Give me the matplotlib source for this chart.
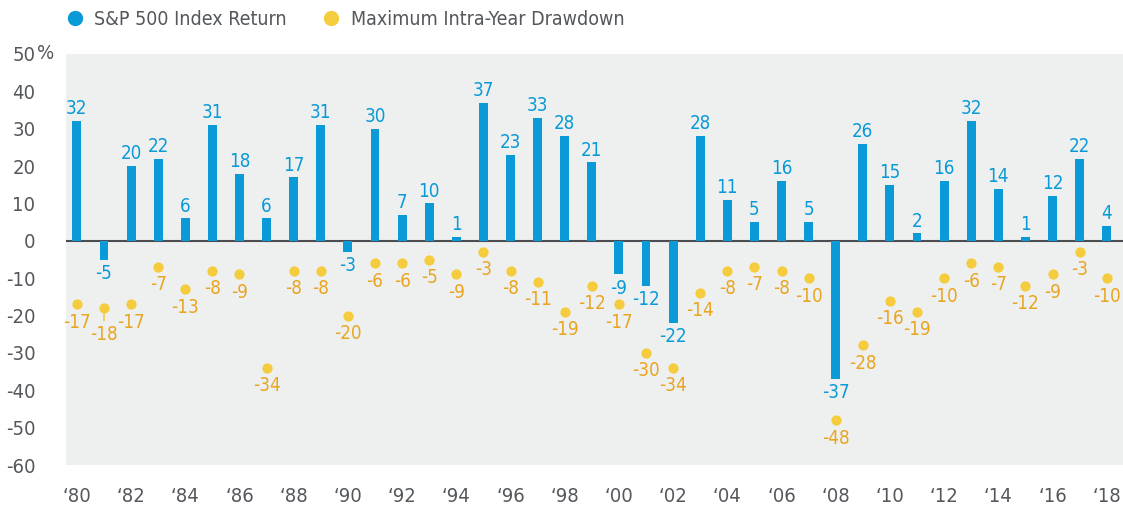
import matplotlib
matplotlib.use('Agg')
import matplotlib.pyplot as plt
from matplotlib.lines import Line2D
from matplotlib import font_manager

years = list(range(1980, 2019))
index_return = [32, -5, 20, 22, 6, 31, 18, 6, 17, 31,
                -3, 30, 7, 10, 1, 37, 23, 33, 28, 21,
                -9, -12, -22, 28, 11, 5, 16, 5, -37, 26,
                15, 2, 16, 32, 14, 1, 12, 22, 4]
drawdown = [-17, -18, -17, -7, -13, -8, -9, -34, -8, -8,
            -20, -6, -6, -5, -9, -3, -8, -11, -19, -12,
            -17, -30, -34, -14, -8, -7, -8, -10, -48, -28,
            -16, -19, -10, -6, -7, -12, -9, -3, -10]
y_ticks = [50, 40, 30, 20, 10, 0, -10, -20, -30, -40, -50, -60]
x_ticks = list(range(1980, 2019, 2))
x_labels = ['\u2018%02d' % (y % 100) for y in x_ticks]

# condensed face if one is around
cond = [f for f in font_manager.fontManager.ttflist
        if 'condensed' in str(f.stretch).lower() or 'Condensed' in f.name or 'Narrow' in f.name]
if cond:
    pick = cond[0]
    for f in cond:
        if f.name.startswith('DejaVu Sans') and f.style == 'normal' and f.weight in (400, 'normal'):
            pick = f
            break
    plt.rcParams['font.family'] = [pick.name, 'DejaVu Sans']
    plt.rcParams['font.stretch'] = pick.stretch
else:
    plt.rcParams['font.family'] = ['DejaVu Sans']

BLUE = '#0a9ad7'
YELLOW = '#f6cc3f'
ORANGE = '#e9a521'
GREY_TXT = '#54575b'

fig = plt.figure(figsize=(11.23, 5.07), dpi=100)
ax = fig.add_axes([0.0588, 0.0828, 0.9412, 0.8107])
ax.set_facecolor('#eef0f0')
for s in ax.spines.values():
    s.set_visible(False)

ax.bar(years, index_return, width=0.33, color=BLUE, zorder=3)
ax.axhline(0, color='#4b4d50', lw=1.5, zorder=2)
ax.scatter(years, drawdown, s=55, color=YELLOW, zorder=4, linewidths=0)

for x, v in zip(years, index_return):
    if v >= 0:
        ax.annotate(str(v), (x, v), xytext=(0, 2), textcoords='offset points',
                    ha='center', va='bottom', color=BLUE, fontsize=13.5)
    else:
        ax.annotate(str(v), (x, v), xytext=(0, -3), textcoords='offset points',
                    ha='center', va='top', color=BLUE, fontsize=13.5)

for x, v in zip(years, drawdown):
    off = -6
    if x == 1981:
        off = -12
        ax.annotate('', (x, v), xytext=(0, -11), textcoords='offset points',
                    arrowprops=dict(arrowstyle='-', color=YELLOW, lw=1.2))
    ax.annotate(str(v), (x, v), xytext=(0, off), textcoords='offset points',
                ha='center', va='top', color=ORANGE, fontsize=13.5)

ax.set_xlim(1979.6, 2018.6)
ax.set_ylim(-60, 50)
ax.set_yticks(y_ticks)
ax.set_yticklabels([str(t) for t in y_ticks])
ax.set_xticks(x_ticks)
ax.set_xticklabels(x_labels)
ax.tick_params(axis='both', length=0, labelsize=14.5, colors=GREY_TXT)
ax.tick_params(axis='y', pad=22)
ax.tick_params(axis='x', pad=16)
ax.text(-0.0272, 1.0, '%', transform=ax.transAxes, ha='left', va='center',
        fontsize=14.5, color=GREY_TXT)

handles = [Line2D([], [], marker='o', ls='', color=BLUE, markersize=10),
           Line2D([], [], marker='o', ls='', color=YELLOW, markersize=10)]
fig.legend(handles, ['S&P 500 Index Return', 'Maximum Intra-Year Drawdown'],
           loc='center left', bbox_to_anchor=(0.0405, 0.962), ncol=2, frameon=False,
           fontsize=14, labelcolor=GREY_TXT, handletextpad=0.4, columnspacing=1.7,
           handlelength=1.2)

fig.savefig('out.png', dpi=100)
